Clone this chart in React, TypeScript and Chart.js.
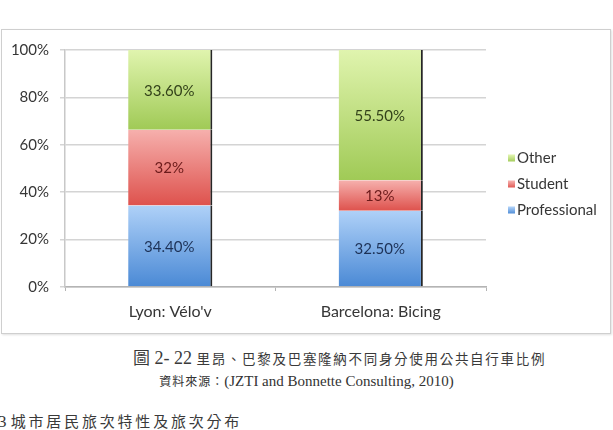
import React, { useEffect, useRef } from 'react';
import { Chart, registerables } from 'chart.js';

Chart.register(...registerables);

// ---- data ----
const categories = ["Lyon: Vélo'v", 'Barcelona: Bicing'];
const seriesNames = ['Professional', 'Student', 'Other'];
const professional = [34.4, 32.5];
const student = [32, 13];
const other = [33.6, 55.5];
const yTickValues = [0, 20, 40, 60, 80, 100];

const rawSeries = [professional, student, other];
const totals = categories.map((_, i) => rawSeries.reduce((s, arr) => s + arr[i], 0));
const shares = rawSeries.map((arr) => arr.map((v, i) => (v / totals[i]) * 100));

// ---- styles ----
const gradStops = [
  ['#afd1f8', '#4a89d5'],
  ['#f6b0ad', '#de524d'],
  ['#e0f4ae', '#a0ca56'],
];
const legendColors = ['#5c96dc', '#e4605b', '#b5da70'];
const labelColors = ['#1d3257', '#6c1b1b', '#33421a'];
const FONT = 'Lato, "Open Sans", sans-serif';
const TEXT = '#363636';

function fmt(v: number) {
  return Number.isInteger(v) ? `${v}%` : `${v.toFixed(2)}%`;
}

const makeBg = (di: number) => (ctx: any) => {
  const chart = ctx.chart;
  if (ctx.type !== 'data' || !chart.chartArea || !chart.scales.y) return legendColors[di];
  const y = chart.scales.y;
  const i = ctx.dataIndex;
  let start = 0;
  for (let k = 0; k < di; k++) start += chart.data.datasets[k].data[i];
  const end = start + chart.data.datasets[di].data[i];
  const top = y.getPixelForValue(end);
  const bot = y.getPixelForValue(start);
  const g = chart.ctx.createLinearGradient(0, top, 0, bot);
  g.addColorStop(0, gradStops[di][0]);
  g.addColorStop(1, gradStops[di][1]);
  return g;
};

const valueLabelPlugin = {
  id: 'valueLabels',
  afterDatasetsDraw(chart: any) {
    const ctx = chart.ctx;
    ctx.save();
    ctx.font = `15px ${FONT}`;
    ctx.textAlign = 'center';
    ctx.textBaseline = 'middle';
    chart.data.datasets.forEach((ds: any, di: number) => {
      const meta = chart.getDatasetMeta(di);
      meta.data.forEach((el: any, i: number) => {
        const p = el.getProps(['x', 'y', 'base'], true);
        ctx.fillStyle = labelColors[di];
        ctx.fillText(fmt(rawSeries[di][i]), p.x - 1, (p.y + p.base) / 2 + 1);
      });
    });
    ctx.restore();
  },
};

const legendPlugin = {
  id: 'sideLegend',
  afterDraw(chart: any) {
    const ctx = chart.ctx;
    const area = chart.chartArea;
    const x0 = area.right + 22;
    const cy = chart.height / 2 + 3;
    ctx.save();
    ctx.font = `15px ${FONT}`;
    ctx.textAlign = 'left';
    ctx.textBaseline = 'middle';
    const order = [2, 1, 0];
    order.forEach((di, row) => {
      const y = cy + (row - 1) * 26;
      const g = ctx.createLinearGradient(0, y - 3.5, 0, y + 3.5);
      g.addColorStop(0, gradStops[di][0]);
      g.addColorStop(1, gradStops[di][1]);
      ctx.fillStyle = g;
      ctx.fillRect(x0, y - 4, 7, 7);
      ctx.fillStyle = TEXT;
      ctx.fillText(chart.data.datasets[di].label, x0 + 9, y);
    });
    ctx.restore();
  },
};

function BarChart() {
  const ref = useRef<HTMLCanvasElement | null>(null);
  useEffect(() => {
    if (!ref.current) return;
    const chart = new Chart(ref.current, {
      type: 'bar',
      data: {
        labels: categories,
        datasets: seriesNames.map((name, di) => ({
          label: name,
          data: shares[di],
          backgroundColor: makeBg(di),
          borderColor: '#262626',
          borderWidth: { top: 0, right: 2, bottom: 0, left: 0 },
          borderSkipped: false,
          barPercentage: 0.4,
          categoryPercentage: 1,
        })),
      },
      options: {
        responsive: false,
        animation: false,
        devicePixelRatio: 1,
        layout: { padding: { top: 15, right: 124, bottom: 0, left: 0 } },
        plugins: {
          legend: { display: false },
          tooltip: { enabled: false },
          title: { display: false },
        },
        scales: {
          x: {
            stacked: true,
            grid: {
              drawOnChartArea: false,
              drawTicks: true,
              tickLength: 4,
              color: '#b4b4b4',
              offset: true,
            },
            border: { display: true, color: '#b4b4b4', width: 1.5 },
            ticks: {
              font: { family: FONT, size: 16 },
              color: TEXT,
              padding: 11,
            },
            afterFit: (s: any) => {
              s.height = 46;
            },
          },
          y: {
            stacked: true,
            min: 0,
            max: 100,
            afterBuildTicks: (s: any) => {
              s.ticks = yTickValues.map((v) => ({ value: v }));
            },
            grid: {
              color: '#d4d4d4',
              lineWidth: 1.5,
              tickLength: 5,
              drawTicks: true,
            },
            border: { display: true, color: '#c8c8c8', width: 1.5 },
            ticks: {
              font: { family: FONT, size: 15 },
              color: TEXT,
              padding: 11,
              callback: (v: any) => `${v}%`,
            },
            afterFit: (s: any) => {
              s.width = 63;
            },
          },
        },
      },
      plugins: [valueLabelPlugin, legendPlugin],
    });
    return () => chart.destroy();
  }, []);
  return <canvas ref={ref} width={608} height={303} style={{ display: 'block', width: 608, height: 303 }} />;
}

export default function App() {
  const cjk = '"Noto Sans CJK TC", "Noto Sans CJK SC", sans-serif';
  const serif = '"Liberation Serif", "DejaVu Serif", serif';
  return (
    <div
      style={{
        position: 'fixed',
        left: 0,
        top: 0,
        width: 613,
        height: 430,
        background: '#ffffff',
        overflow: 'hidden',
      }}
    >
      <div
        style={{
          position: 'absolute',
          left: 1,
          top: 29,
          width: 610,
          height: 305,
          boxSizing: 'border-box',
          border: '1px solid #cfcfcf',
          boxShadow: '1px 1px 2px rgba(0,0,0,0.12)',
          background: '#fff',
        }}
      >
        <BarChart />
      </div>
      <div
        style={{
          position: 'absolute',
          left: 133,
          top: 346,
          whiteSpace: 'nowrap',
          color: '#3a3a3a',
          lineHeight: '22px',
        }}
      >
        <span style={{ fontFamily: cjk, fontSize: 17 }}>圖</span>
        <span style={{ fontFamily: serif, fontSize: 18 }}> 2- 22 </span>
        <span style={{ fontFamily: cjk, fontSize: 13.5, letterSpacing: 1.7 }}>
          里昂、巴黎及巴塞隆納不同身分使用公共自行車比例
        </span>
      </div>
      <div
        style={{
          position: 'absolute',
          left: 0,
          top: 371,
          width: 613,
          textAlign: 'center',
          whiteSpace: 'nowrap',
          color: '#333',
          lineHeight: '20px',
        }}
      >
        <span style={{ fontFamily: cjk, fontSize: 12, letterSpacing: 1 }}>資料來源：</span>
        <span style={{ fontFamily: serif, fontSize: 15 }}>(JZTI and Bonnette Consulting, 2010)</span>
      </div>
      <div
        style={{
          position: 'absolute',
          left: -2,
          top: 410,
          whiteSpace: 'nowrap',
          color: '#3a3a3a',
          lineHeight: '22px',
        }}
      >
        <span style={{ fontFamily: serif, fontSize: 17 }}>3 </span>
        <span style={{ fontFamily: cjk, fontSize: 15, letterSpacing: 2.8 }}>城市居民旅次特性及旅次分布</span>
      </div>
    </div>
  );
}
